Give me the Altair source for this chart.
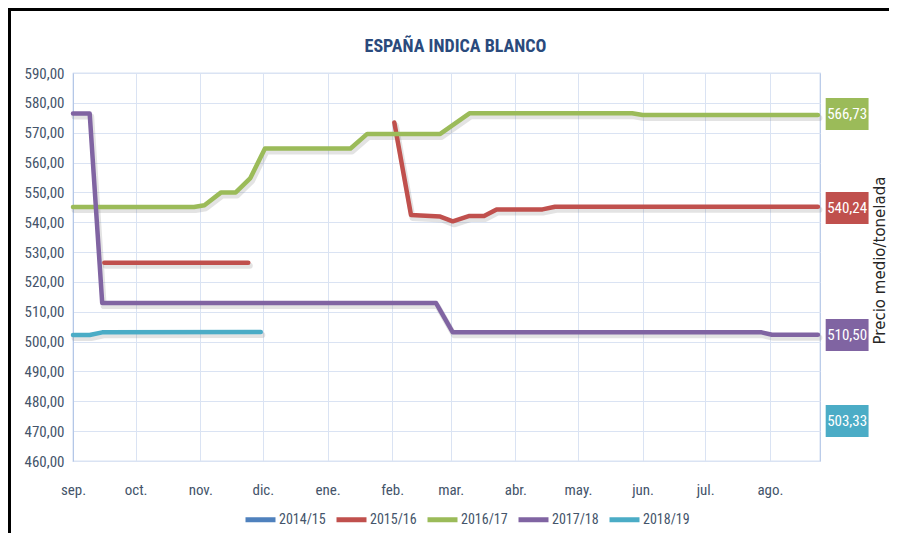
import altair as alt
import pandas as pd

# ---------------- data ----------------
seasons = ["2014/15", "2015/16", "2016/17", "2017/18", "2018/19"]
season_colors = ["#4F81BD", "#C0504D", "#9BBB59", "#8064A2", "#4BACC6"]

month_labels = ["ene.", "feb.", "mar.", "abr.", "may.", "jun.",
                "jul.", "ago.", "sep.", "oct.", "nov.", "dic."]

s1516_dates = ["2017-09-16", "2017-11-24",
               "2018-02-02", "2018-02-10", "2018-02-24", "2018-03-02", "2018-03-10",
               "2018-03-17", "2018-03-23", "2018-04-14", "2018-04-20", "2018-08-24"]
s1516_values = [526.4, 526.4,
                573.4, 542.4, 541.9, 540.3, 542.1, 542.1, 544.3, 544.3, 545.2, 545.2]
s1516_segments = [1, 1, 2, 2, 2, 2, 2, 2, 2, 2, 2, 2]

s1617_dates = ["2017-09-01", "2017-10-29", "2017-11-03", "2017-11-11", "2017-11-18",
               "2017-11-25", "2017-12-02", "2018-01-12", "2018-01-20", "2018-02-24",
               "2018-03-10", "2018-05-27", "2018-06-01", "2018-08-24"]
s1617_values = [545.1, 545.1, 545.7, 550.0, 550.0, 554.8, 564.7, 564.7, 569.6, 569.6,
                576.5, 576.5, 575.9, 575.9]

s1718_dates = ["2017-09-01", "2017-09-09", "2017-09-15", "2018-02-22", "2018-03-02",
               "2018-07-28", "2018-08-02", "2018-08-24"]
s1718_values = [576.4, 576.4, 512.9, 512.9, 503.1, 503.1, 502.3, 502.3]

s1819_dates = ["2017-09-01", "2017-09-09", "2017-09-15", "2017-11-30"]
s1819_values = [502.2, 502.2, 503.1, 503.2]

box_texts = ["566,73", "540,24", "510,50", "503,33"]
box_seasons = ["2016/17", "2015/16", "2017/18", "2018/19"]
box_values = [576.3, 544.8, 502.2, 473.4]
box_dates = ["2018-09-07", "2018-09-07", "2018-09-07", "2018-09-07"]

y_ticks = list(range(460, 600, 10))

# ---------------- tables ----------------
rows = []
for d, v, s in zip(s1516_dates, s1516_values, s1516_segments):
    rows.append({"date": d, "value": v, "season": "2015/16", "seg": s})
for d, v in zip(s1617_dates, s1617_values):
    rows.append({"date": d, "value": v, "season": "2016/17", "seg": 1})
for d, v in zip(s1718_dates, s1718_values):
    rows.append({"date": d, "value": v, "season": "2017/18", "seg": 1})
for d, v in zip(s1819_dates, s1819_values):
    rows.append({"date": d, "value": v, "season": "2018/19", "seg": 1})
df = pd.DataFrame(rows)

box_df = pd.DataFrame({"date": box_dates, "value": box_values,
                       "season": box_seasons, "txt": box_texts})

# ---------------- styling ----------------
NARROW = "Liberation Sans Narrow, Roboto Condensed, Arial Narrow, Liberation Sans"
LABEL_COLOR = "#44546A"
GRID = "#DAE3F3"

month_starts = [alt.DateTime(year=2017 + (1 if m < 9 else 0), month=m, date=1, utc=True)
                for m in [9, 10, 11, 12, 1, 2, 3, 4, 5, 6, 7, 8]]
label_expr = "[" + ",".join("'%s'" % m for m in month_labels) + "][utcmonth(datum.value)]"

x_scale = alt.Scale(type="utc",
                    domain=[alt.DateTime(year=2017, month=9, date=1, utc=True),
                            alt.DateTime(year=2018, month=8, date=25, utc=True)])
x_axis = alt.Axis(values=month_starts, labelExpr=label_expr, title=None, ticks=False,
                  domain=True, domainColor=GRID, grid=True, gridColor=GRID,
                  labelPadding=21, labelFont=NARROW, labelFontSize=15,
                  labelFlush=False, labelColor=LABEL_COLOR)
y_scale = alt.Scale(domain=[460, 590], nice=False, zero=False)
y_axis = alt.Axis(values=y_ticks, labelExpr="replace(format(datum.value, '.2f'), '.', ',')",
                  title=None, ticks=False, domain=True, domainColor="#B4C7E7",
                  grid=True, gridColor=GRID, labelPadding=9, labelFont=NARROW,
                  labelFontSize=15, labelColor=LABEL_COLOR)

color_scale = alt.Scale(domain=seasons, range=season_colors)

base = alt.Chart(df)

shadow = base.mark_line(color="#7F7F7F", opacity=0.22, strokeWidth=6,
                        strokeJoin="round", strokeCap="round",
                        xOffset=1.5, yOffset=3).encode(
    x=alt.X("date:T", scale=x_scale, axis=x_axis),
    y=alt.Y("value:Q", scale=y_scale, axis=y_axis),
    detail=["season:N", "seg:N"],
)

lines = base.mark_line(strokeWidth=4.5, strokeJoin="round", strokeCap="round").encode(
    x=alt.X("date:T", scale=x_scale, axis=x_axis),
    y=alt.Y("value:Q", scale=y_scale, axis=y_axis),
    color=alt.Color("season:N", scale=color_scale,
                    legend=alt.Legend(title=None, orient="none", direction="horizontal",
                                      legendX=170, legendY=429,
                                      symbolType="stroke", symbolStrokeWidth=5,
                                      symbolSize=900, labelFont=NARROW, labelFontSize=14,
                                      labelColor=LABEL_COLOR, columnPadding=0,
                                      labelOffset=1)),
    detail="seg:N",
)

right_axis = alt.Axis(orient="right", title="Precio medio/tonelada", labels=False,
                      ticks=False, domain=False, grid=False, titleAngle=270,
                      titlePadding=67, titleY=187, titleFont="DejaVu Sans",
                      titleFontSize=15, titleFontWeight="normal", titleColor="#262626")

boxes = alt.Chart(box_df).mark_point(shape="M-1.34,-1H1.34V1H-1.34Z", filled=True,
                                     size=1024, opacity=1, strokeWidth=0).encode(
    x=alt.X("date:T", scale=x_scale, axis=x_axis),
    y=alt.Y("value:Q", scale=y_scale, axis=right_axis),
    color=alt.Color("season:N", scale=color_scale, legend=None),
)

box_text = alt.Chart(box_df).mark_text(color="white", font=NARROW, fontSize=15,
                                       align="center", baseline="middle").encode(
    x=alt.X("date:T", scale=x_scale, axis=x_axis),
    y=alt.Y("value:Q", scale=y_scale, axis=right_axis),
    text="txt:N",
)

deco = pd.DataFrame({"k": [0]})
border_top = alt.Chart(deco).mark_rule(color="black", strokeWidth=3).encode(
    x=alt.value(-65), x2=alt.value(816), y=alt.value(-63.5))
border_left = alt.Chart(deco).mark_rule(color="black", strokeWidth=3).encode(
    x=alt.value(-63.5), y=alt.value(-65), y2=alt.value(460))

left = alt.layer(shadow, lines)
right = alt.layer(boxes, box_text)

chart = alt.layer(left, right, border_top, border_left).resolve_axis(y="independent").properties(
    width=747, height=388,
    autosize=alt.AutoSizeParams(type="none"),
    padding={"left": 65, "top": 65, "right": 69, "bottom": 72},
    background="white",
    title=alt.TitleParams("ESPAÑA INDICA BLANCO", font=NARROW, fontSize=18,
                          fontWeight="bold", color="#2A4A7C", anchor="middle",
                          frame="group", baseline="alphabetic", offset=0, dy=63, dx=9),
).configure_view(stroke="#B4C7E7", strokeWidth=1.2)

chart.save("out.html", embed_options={"renderer": "svg", "actions": False})
